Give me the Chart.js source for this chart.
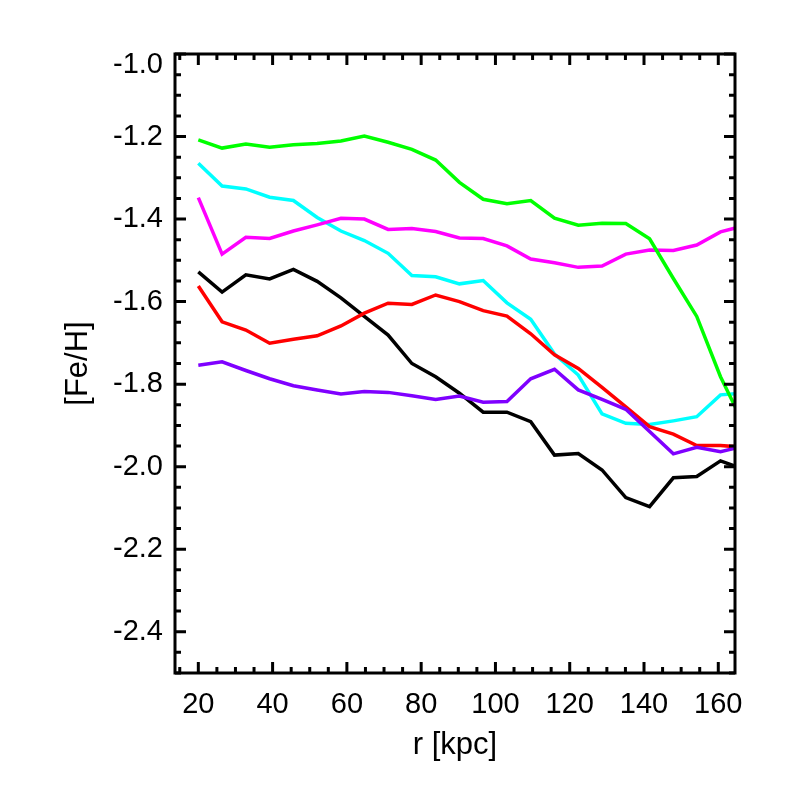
<!DOCTYPE html>
<html>
<head>
<meta charset="utf-8">
<script src="https://cdn.jsdelivr.net/npm/chart.js@4"></script>
<style>
html,body{margin:0;padding:0;background:#fff;}
#wrap{width:786px;height:786px;}
</style>
</head>
<body>
<div id="wrap"><canvas id="c" width="786" height="786"></canvas></div>
<script>
// ---- data ----
const radius_kpc = [20.0, 26.4, 32.8, 39.2, 45.6, 52.0, 58.4, 64.7, 71.1, 77.5, 83.9, 90.3,
                    96.7, 103.1, 109.5, 115.9, 122.3, 128.7, 135.1, 141.5, 147.9, 154.2, 160.6, 167.0];

const feh_green   = [-1.208, -1.228, -1.218, -1.226, -1.220, -1.217, -1.211, -1.199, -1.214, -1.231, -1.257, -1.311,
                     -1.352, -1.363, -1.355, -1.398, -1.415, -1.410, -1.411, -1.448, -1.544, -1.636, -1.782, -1.900];
const feh_cyan    = [-1.265, -1.320, -1.327, -1.347, -1.355, -1.396, -1.429, -1.452, -1.483, -1.537, -1.540, -1.557,
                     -1.549, -1.603, -1.643, -1.727, -1.778, -1.872, -1.895, -1.898, -1.889, -1.879, -1.826, -1.822];
const feh_magenta = [-1.348, -1.485, -1.444, -1.447, -1.429, -1.414, -1.398, -1.400, -1.425, -1.423, -1.430, -1.446,
                     -1.447, -1.465, -1.497, -1.506, -1.517, -1.514, -1.485, -1.475, -1.476, -1.463, -1.431, -1.416];
const feh_black   = [-1.528, -1.577, -1.535, -1.545, -1.522, -1.551, -1.591, -1.636, -1.681, -1.750, -1.782, -1.822,
                     -1.868, -1.868, -1.891, -1.972, -1.968, -2.008, -2.075, -2.097, -2.027, -2.024, -1.986, -2.007];
const feh_red     = [-1.562, -1.649, -1.669, -1.701, -1.691, -1.683, -1.659, -1.628, -1.604, -1.607, -1.584, -1.600,
                     -1.622, -1.635, -1.678, -1.729, -1.762, -1.808, -1.855, -1.903, -1.921, -1.949, -1.949, -1.953];
const feh_purple  = [-1.754, -1.746, -1.767, -1.787, -1.804, -1.814, -1.824, -1.818, -1.820, -1.828, -1.837, -1.829,
                     -1.844, -1.842, -1.787, -1.764, -1.814, -1.837, -1.861, -1.915, -1.969, -1.953, -1.964, -1.950];

const xTickValues = [20, 40, 60, 80, 100, 120, 140, 160];
const yTickValues = [-2.4, -2.2, -2.0, -1.8, -1.6, -1.4, -1.2, -1.0];
const xRange = [13.72, 164.5];
const yRange = [-2.5, -1.0];
const xTitle = 'r [kpc]';
const yTitle = '[Fe/H]';

// ---- styling ----
const FONT = 'Liberation Sans, Arial, Helvetica, sans-serif';
const TICK_SIZE = 29;
const TITLE_SIZE = 31;

function series(values, color) {
  return {
    data: radius_kpc.map((r, i) => ({x: r, y: values[i]})),
    borderColor: color,
    backgroundColor: color,
    borderWidth: 3.5,
    pointRadius: 0,
    tension: 0,
    fill: false
  };
}

// frame + inward ticks on all four sides (IDL style)
const framePlugin = {
  id: 'frame',
  afterDraw(chart) {
    const {ctx, chartArea: a, scales: {x, y}} = chart;
    ctx.save();
    ctx.strokeStyle = '#000';
    ctx.lineWidth = 3;
    ctx.lineCap = 'butt';
    ctx.beginPath();
    for (let k = 3; k * 5 <= xRange[1]; k++) {
      const v = k * 5;
      if (v < xRange[0]) continue;
      const p = x.getPixelForValue(v);
      const L = (v % 20 === 0) ? 11 : 6;
      ctx.moveTo(p, a.bottom); ctx.lineTo(p, a.bottom - L);
      ctx.moveTo(p, a.top);    ctx.lineTo(p, a.top + L);
    }
    for (let k = -50; k <= -20; k++) {
      const v = k / 20;
      const p = y.getPixelForValue(v);
      const L = (k % 4 === 0) ? 11 : 6;
      ctx.moveTo(a.left, p);  ctx.lineTo(a.left + L, p);
      ctx.moveTo(a.right, p); ctx.lineTo(a.right - L, p);
    }
    ctx.stroke();
    ctx.strokeRect(a.left, a.top, a.right - a.left, a.bottom - a.top);
    ctx.restore();
  }
};

new Chart(document.getElementById('c'), {
  type: 'line',
  data: {
    datasets: [
      series(feh_green, '#00ff00'),
      series(feh_purple, '#7f00ff'),
      series(feh_red, '#ff0000'),
      series(feh_magenta, '#ff00ff'),
      series(feh_cyan, '#00ffff'),
      series(feh_black, '#000000')
    ]
  },
  options: {
    responsive: false,
    animation: false,
    devicePixelRatio: 1,
    layout: {padding: {left: 0, top: 54, right: 51, bottom: 0}},
    plugins: {legend: {display: false}, tooltip: {enabled: false}},
    scales: {
      x: {
        type: 'linear',
        min: xRange[0],
        max: xRange[1],
        grid: {display: false, drawTicks: false},
        border: {display: false},
        afterBuildTicks: s => { s.ticks = xTickValues.map(v => ({value: v})); },
        afterFit: s => { s.height = 113; },
        ticks: {
          padding: 15,
          color: '#000',
          autoSkip: false,
          maxRotation: 0,
          font: {family: FONT, size: TICK_SIZE},
          callback: v => String(v)
        },
        title: {
          display: true,
          text: xTitle,
          color: '#000',
          font: {family: FONT, size: TITLE_SIZE},
          padding: {top: 22, bottom: 22}
        }
      },
      y: {
        type: 'linear',
        min: yRange[0],
        max: yRange[1],
        grid: {display: false, drawTicks: false},
        border: {display: false},
        afterBuildTicks: s => { s.ticks = yTickValues.map(v => ({value: v})); },
        afterFit: s => { s.width = 175; },
        ticks: {
          padding: 12,
          color: '#000',
          autoSkip: false,
          font: c => ({family: FONT, size: TICK_SIZE,
                       lineHeight: (c.tick && c.tick.value === -1.0) ? 0.759 : 1.2}),
          callback: v => (v === -1.0 ? ['', v.toFixed(1)] : v.toFixed(1))
        },
        title: {
          display: true,
          text: yTitle,
          color: '#000',
          font: {family: FONT, size: TITLE_SIZE},
          padding: {top: 60, bottom: 0}
        }
      }
    }
  },
  plugins: [framePlugin]
});
</script>
</body>
</html>
